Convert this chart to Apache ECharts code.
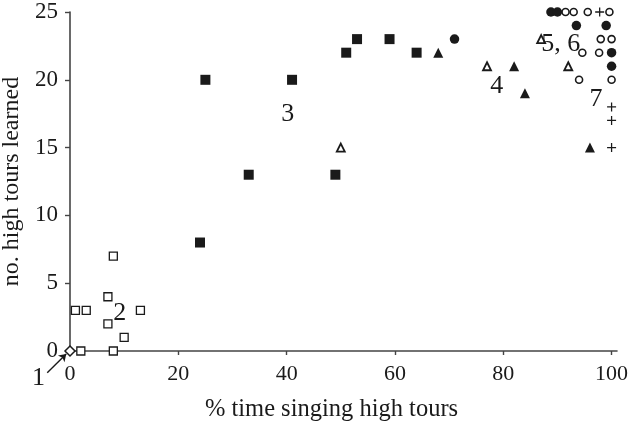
<!DOCTYPE html>
<html>
<head>
<meta charset="utf-8">
<script src="https://cdn.jsdelivr.net/npm/echarts@6/dist/echarts.min.js"></script>
<style>html,body{margin:0;padding:0;background:#fff}#c{width:630px;height:424px}</style>
</head>
<body>
<div id="c"></div>
<script>
// ---- data (x = % time singing high tours, y = no. high tours learned) ----
var xTicks = [0, 20, 40, 60, 80, 100];
var yTicks = [0, 5, 10, 15, 20, 25];
var openDiamond = [[0, 0]];
var openSquares = [[1, 3], [3, 3], [2, 0], [8, 0], [8, 7], [7, 4], [7, 2], [10, 1], [13, 3]];
var filledSquares = [[24, 8], [25, 20], [33, 13], [41, 20], [49, 13], [51, 22], [53, 23], [59, 23], [64, 22]];
var filledTriangles = [[68, 22], [82, 21], [84, 19], [96, 15]];
var openTriangles = [[50, 15], [77, 21], [87, 23], [92, 21]];
var filledCircles = [[71, 23], [88.8, 25], [90, 25], [93.5, 24], [99, 24], [100, 22], [100, 21]];
var openCircles = [[91.5, 25], [93, 25], [95.6, 25], [99.6, 25], [98, 23], [100, 23], [94.6, 22], [97.7, 22], [94, 20], [100, 20]];
var pluses = [[97.8, 25], [100, 18], [100, 17], [100, 15]];
var groupLabels = [
  {name: '1', value: [-5.8, -2.0]},
  {name: '2', value: [9.2, 2.8]},
  {name: '3', value: [40.2, 17.5]},
  {name: '4', value: [78.8, 19.5]},
  {name: '5, 6', value: [90.6, 22.6]},
  {name: '7', value: [97.1, 18.6]}
];
var arrowLine = [[-4.2, -1.6], [-0.7, -0.22]];

var FONT = 'Liberation Serif';
var INK = '#1a1a1a';
var plusPath = 'path://M0.43,0H0.57V0.43H1V0.57H0.57V1H0.43V0.57H0V0.43H0.43Z';

function sc(data, symbol, size, filled, bw) {
  return {
    type: 'scatter', data: data, symbol: symbol, symbolSize: size, clip: false,
    itemStyle: filled ? {color: INK, opacity: 1} : {color: '#fff', borderColor: INK, borderWidth: bw || 1.4, opacity: 1},
    emphasis: {disabled: true}, z: 3
  };
}

var chart = echarts.init(document.getElementById('c'), null, {renderer: 'canvas'});
chart.setOption({
  backgroundColor: '#fff',
  animation: false,
  textStyle: {fontFamily: FONT},
  grid: {left: 70, right: 13, top: 12, bottom: 73, containLabel: false, outerBoundsMode: 'none'},
  xAxis: {
    type: 'value', min: 0, max: 101, interval: 20,
    name: '% time singing high tours', nameLocation: 'middle', nameGap: 46,
    nameTextStyle: {fontFamily: FONT, fontSize: 24.5, color: INK, padding: [0, 24, 0, 0]},
    axisLine: {show: true, lineStyle: {color: '#444', width: 1.6}},
    axisTick: {show: true, length: 4, lineStyle: {color: '#444', width: 1.4}, customValues: xTicks},
    axisLabel: {fontFamily: FONT, fontSize: 22, color: INK, margin: 12, customValues: xTicks},
    splitLine: {show: false}
  },
  yAxis: {
    type: 'value', min: 0, max: 25, interval: 5,
    name: 'no. high tours learned', nameLocation: 'middle', nameGap: 26,
    nameTextStyle: {fontFamily: FONT, fontSize: 24, color: INK},
    axisLine: {show: true, lineStyle: {color: '#444', width: 1.6}},
    axisTick: {show: true, length: 5, lineStyle: {color: '#444', width: 1.4}, customValues: yTicks},
    axisLabel: {fontFamily: FONT, fontSize: 23, color: INK, margin: 12, customValues: yTicks},
    splitLine: {show: false}
  },
  series: [
    sc(openSquares, 'rect', 8, false, 1.3),
    sc(filledSquares, 'rect', 10, true),
    sc(filledTriangles, 'triangle', 10, true),
    sc(openTriangles, 'triangle', [8, 8], false, 1.8),
    sc(filledCircles, 'circle', 9.5, true),
    sc(openCircles, 'circle', 7, false, 1.6),
    sc(pluses, plusPath, 9, true),
    sc(openDiamond, 'diamond', [10, 10], false, 1.5),
    {
      type: 'lines', coordinateSystem: 'cartesian2d', clip: false, z: 4,
      symbol: ['none', 'arrow'], symbolSize: 7,
      lineStyle: {color: INK, width: 1.4, opacity: 1},
      data: [{coords: arrowLine}]
    },
    {
      type: 'scatter', data: groupLabels, symbolSize: 1, clip: false, z: 5,
      itemStyle: {color: 'rgba(0,0,0,0)', opacity: 1},
      label: {show: true, position: 'inside', formatter: function (p) { return p.name; },
        fontFamily: FONT, fontSize: 26, color: INK},
      emphasis: {disabled: true}
    }
  ]
});
</script>
</body>
</html>
